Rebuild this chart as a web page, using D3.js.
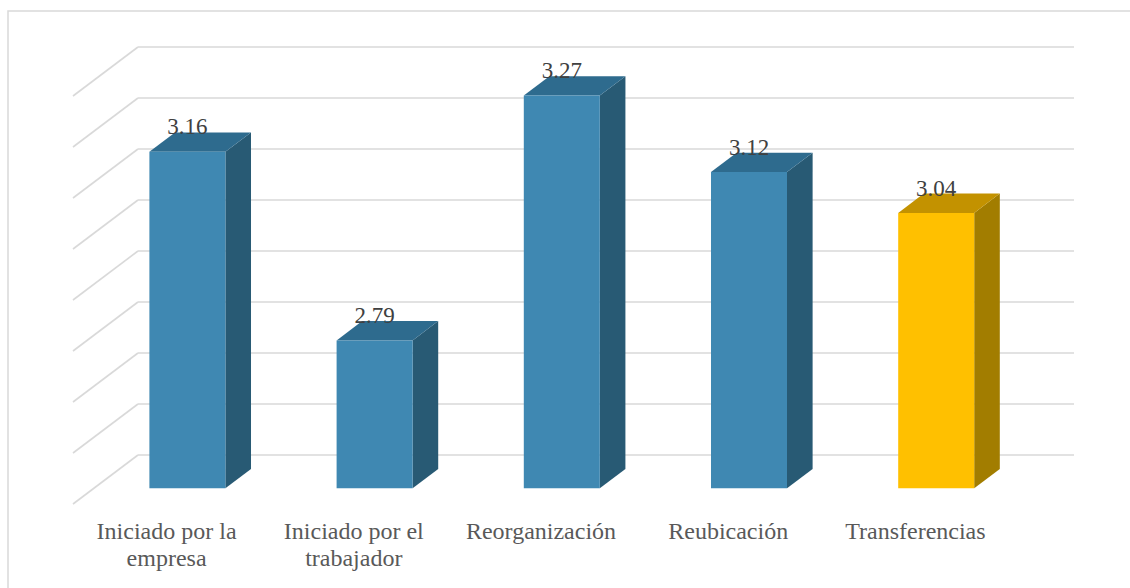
<!DOCTYPE html>
<html><head><meta charset="utf-8">
<script src="https://cdn.jsdelivr.net/npm/d3@7"></script>
<style>body{margin:0;background:#fff;}svg{display:block;}</style>
</head><body>
<svg id="c" width="1130" height="588"></svg>
<script>
const categories = ["Iniciado por la empresa","Iniciado por el trabajador","Reorganización","Reubicación","Transferencias"];
const labelLines = [["Iniciado por la","empresa"],["Iniciado por el","trabajador"],["Reorganización"],["Reubicación"],["Transferencias"]];
const values = [3.16, 2.79, 3.27, 3.12, 3.04];
const highlight = [false, false, false, false, true];
const yTicks = [2.5, 2.6, 2.7, 2.8, 2.9, 3.0, 3.1, 3.2, 3.3];

const svg = d3.select("#c");
svg.append("rect").attr("x",8).attr("y",11).attr("width",1125).attr("height",600)
  .attr("fill","#fff").attr("stroke","#d9d9d9").attr("stroke-width",1.5);

const DX = -65, DY = 49; // depth vector (back wall -> front floor edge)
const dBack = 0.286, dFront = 0.68;
const x = d3.scaleBand().domain(categories).range([138,1074]).padding(0);
const y = d3.scaleLinear().domain([2.5,3.3]).range([455,47]);
const barW = x.bandwidth()*0.406;

const grid = svg.append("g").attr("stroke","#d9d9d9").attr("stroke-width",1.6).attr("fill","none");
yTicks.forEach(t=>{
  grid.append("line").attr("x1",x.range()[0]).attr("x2",x.range()[1]).attr("y1",y(t)).attr("y2",y(t));
  grid.append("line").attr("x1",x.range()[0]).attr("y1",y(t)).attr("x2",x.range()[0]+DX).attr("y2",y(t)+DY);
});

const colors = {
  blue:{front:"#3f88b2",top:"#2e6b8e",side:"#285a74"},
  gold:{front:"#ffc000",top:"#c39200",side:"#a27d00"}
};
const pt = (px,py,d)=>[px+DX*d, py+DY*d];
const bars = svg.append("g");
categories.forEach((c,i)=>{
  const col = highlight[i]?colors.gold:colors.blue;
  const cx = x(c)+x.bandwidth()/2;
  const x0 = cx-barW/2, x1 = cx+barW/2;
  const yt = y(values[i]), yb = y(2.5);
  const fTL = pt(x0,yt,dFront), fTR = pt(x1,yt,dFront), fBR = pt(x1,yb,dFront), fBL = pt(x0,yb,dFront);
  const bTL = pt(x0,yt,dBack), bTR = pt(x1,yt,dBack), bBR = pt(x1,yb,dBack);
  bars.append("polygon").attr("points",[fTR,bTR,bBR,fBR].join(" ")).attr("fill",col.side);
  bars.append("polygon").attr("points",[fTL,fTR,bTR,bTL].join(" ")).attr("fill",col.top);
  bars.append("polygon").attr("points",[fTL,fTR,fBR,fBL].join(" ")).attr("fill",col.front);
  svg.append("text").attr("x",(fTL[0]+fTR[0])/2).attr("y",bTL[1]+2)
    .attr("text-anchor","middle").attr("font-family","Liberation Serif").attr("font-size",23)
    .attr("fill","#404040").text(d3.format(".2f")(values[i]));
  const lx = cx+DX;
  const t = svg.append("text").attr("x",lx).attr("y",539).attr("text-anchor","middle")
    .attr("font-family","Liberation Serif").attr("font-size",24).attr("fill","#595959");
  labelLines[i].forEach((l,j)=>t.append("tspan").attr("x",lx).attr("y",539+27*j).text(l));
});
</script>
</body></html>
